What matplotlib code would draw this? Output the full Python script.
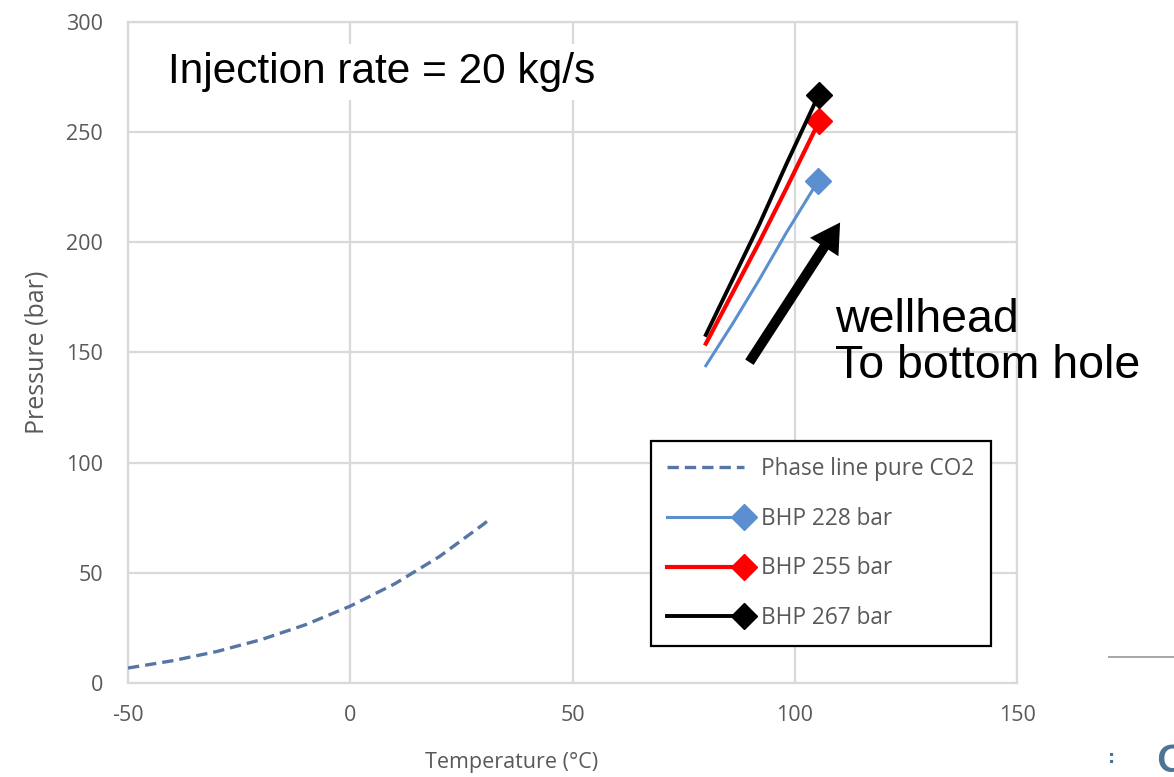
import matplotlib
matplotlib.use('Agg')
import matplotlib.pyplot as plt
from matplotlib.lines import Line2D
from matplotlib.legend_handler import HandlerLine2D

plt.rcParams['axes.unicode_minus'] = False

# ---- data ----
phase_T = [-50, -40, -30, -20, -10, 0, 10, 20, 30, 31]
phase_P = [6.8, 10.1, 14.3, 19.7, 26.5, 34.9, 45.0, 57.3, 72.1, 73.8]

bhp228_T = [80, 86, 92, 98, 105.3]
bhp228_P = [144, 163, 183, 204, 228]
bhp255_T = [80, 86, 92, 98, 105.5]
bhp255_P = [154, 177, 200, 224, 255]
bhp267_T = [80, 86, 92, 98, 105.4]
bhp267_P = [158, 183, 208, 235, 267]

series_labels = ["Phase line pure CO2", "BHP 228 bar", "BHP 255 bar", "BHP 267 bar"]
x_ticks = [-50, 0, 50, 100, 150]
y_ticks = [0, 50, 100, 150, 200, 250, 300]
arrow_tail = (89.8, 145.6)
arrow_head = (110.2, 209.0)


class EndMarkerHandler(HandlerLine2D):
    """Legend handle: line across, marker at its right end (Excel style)."""
    def create_artists(self, legend, orig_handle, xdescent, ydescent,
                       width, height, fontsize, trans):
        x = [-xdescent, -xdescent + width]
        yc = (height - ydescent) / 2
        line = Line2D(x, [yc, yc])
        self.update_prop(line, orig_handle, legend)
        line.set_markevery([1])
        line.set_transform(trans)
        return [line]


# ---- styling ----
W, H = 1174, 777
fig = plt.figure(figsize=(W / 100, H / 100), dpi=100)
ax = fig.add_axes([128 / W, 1 - 683 / H, (1017 - 128) / W, (683 - 22) / H])

tick_font = 'Open Sans'
gray_txt = '#595959'
grid_c = '#d9d9d9'

ax.set_xlim(-50, 150)
ax.set_ylim(0, 300)
ax.set_xticks(x_ticks)
ax.set_yticks(y_ticks)
ax.grid(True, color=grid_c, lw=1.6, zorder=0)
ax.set_axisbelow(True)
for s in ax.spines.values():
    s.set_color(grid_c)
    s.set_linewidth(1.6)
ax.tick_params(length=0, labelsize=15.5, labelcolor=gray_txt)
ax.tick_params(axis='y', pad=18)
ax.tick_params(axis='x', pad=16)
for lab in ax.get_xticklabels() + ax.get_yticklabels():
    lab.set_fontfamily(tick_font)

c_phase = '#5676a6'
c_blue = '#5b8fd0'
c_red = '#ff0000'
c_black = '#000000'
msize = 13

ax.plot(phase_T, phase_P, color=c_phase, lw=2.4, dashes=(3.4, 1.8), zorder=3)
ax.plot(bhp228_T, bhp228_P, color=c_blue, lw=2.2, marker='D', markersize=msize,
        markevery=[len(bhp228_T) - 1], zorder=4)
ax.plot(bhp255_T, bhp255_P, color=c_red, lw=3.0, marker='D', markersize=msize,
        markevery=[len(bhp255_T) - 1], zorder=4)
ax.plot(bhp267_T, bhp267_P, color=c_black, lw=2.8, marker='D', markersize=msize,
        markevery=[len(bhp267_T) - 1], zorder=5)

ax.annotate('', xy=arrow_head, xytext=arrow_tail,
            arrowprops=dict(arrowstyle='simple,head_length=1.05,head_width=1.22,tail_width=0.36',
                            mutation_scale=20, color='black', lw=0, shrinkA=0, shrinkB=0),
            zorder=6)

ax.text((168 - 128) / 889, (683 - 72) / 661, 'Injection rate = 20 kg/s',
        transform=ax.transAxes, fontsize=30.5, family='Liberation Sans', color='black',
        va='center', ha='left',
        bbox=dict(facecolor='white', edgecolor='none', pad=6), zorder=7)
ax.text((835 - 128) / 889, (683 - 343) / 661, 'wellhead\nTo bottom hole',
        transform=ax.transAxes, fontsize=33.5, family='Liberation Sans', color='black',
        va='center', ha='left', linespacing=1.05, zorder=7, clip_on=False)

handles = [
    Line2D([], [], color=c_phase, lw=2.4, dashes=(3.4, 1.8)),
    Line2D([], [], color=c_blue, lw=2.2, marker='D', markersize=msize),
    Line2D([], [], color=c_red, lw=3.0, marker='D', markersize=msize),
    Line2D([], [], color=c_black, lw=2.8, marker='D', markersize=msize),
]
leg = ax.legend(handles, series_labels, loc='upper left',
                handler_map={Line2D: EndMarkerHandler()},
                bbox_to_anchor=((651 - 128) / 889, (683 - 441) / 661),
                prop={'family': tick_font, 'size': 16.3}, labelcolor=gray_txt,
                frameon=True, fancybox=False, edgecolor='black', framealpha=1,
                handlelength=3.4, handletextpad=0.75, labelspacing=1.13,
                borderpad=0.72, borderaxespad=0)
leg.get_frame().set_linewidth(1.6)
leg.set_zorder(8)

ax.set_xlabel('Temperature (°C)', fontsize=15.5, family=tick_font, color=gray_txt)
ax.xaxis.set_label_coords((512 - 128) / 889, -(752 - 683) / 661)
ax.set_ylabel('Pressure (bar)', fontsize=18, family=tick_font, color=gray_txt)
ax.yaxis.set_label_coords(-(128 - 50) / 889, 0.5)

# slide artifacts at bottom right
fig.add_artist(Line2D([1109 / W, 1.0], [1 - 657 / H, 1 - 657 / H], color='#a6a6a6', lw=1.4))
fig.text(1108 / W, 1 - 758 / H, ':', fontsize=13, color='#4e7495', va='center', ha='left',
         family='DejaVu Sans', fontweight='bold')
fig.text(1155 / W, 1 - 788 / H, '9', fontsize=44, color='#4e7495', va='baseline', ha='left',
         family='Liberation Sans')

fig.savefig('out.png', dpi=100)
